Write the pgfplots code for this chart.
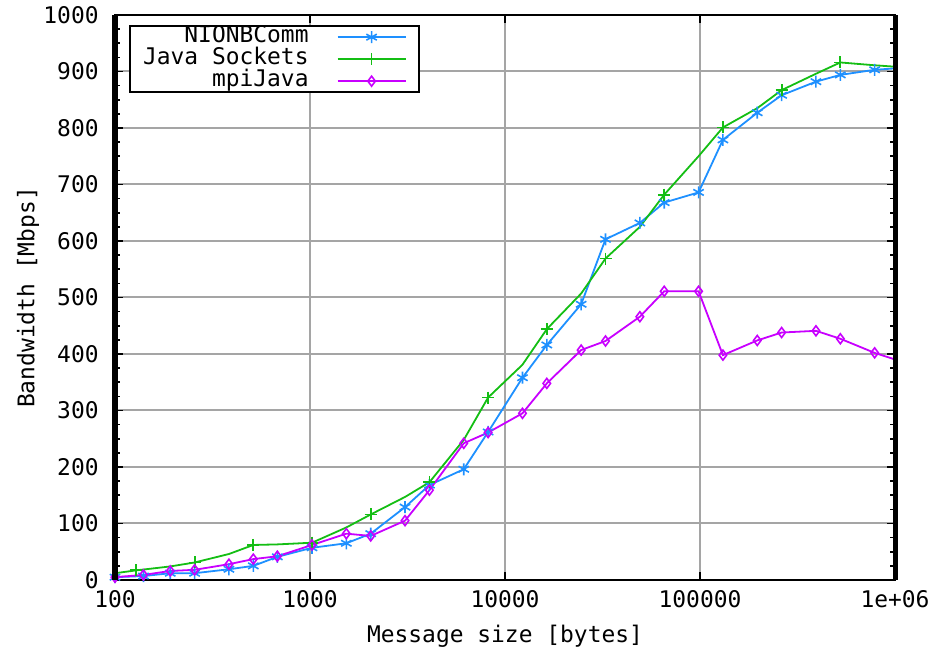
\documentclass[border=0pt]{standalone}
\usepackage{pgfplots}
\pgfplotsset{compat=1.18}
\usepackage{fontspec}
\setmainfont{DejaVu Sans Mono}
\setmonofont{DejaVu Sans Mono}
\definecolor{cblue}{RGB}{30,144,255}
\definecolor{cgreen}{RGB}{20,190,20}
\definecolor{cmag}{RGB}{200,0,255}
\definecolor{cgrid}{RGB}{165,165,165}
\begin{document}
\fontsize{11.5}{13}\selectfont
\begin{tikzpicture}
\begin{axis}[
  name=ax,
  scale only axis, width=390bp, height=282.5bp,
  xmode=log, log basis x=10,
  xmin=100, xmax=1000000, ymin=0, ymax=1000,
  xtick={100,1000,10000,100000,1000000},
  xticklabels={100,1000,10000,100000,1e+06},
  ytick={0,100,...,1000},
  minor y tick num=3,
  grid=major,
  major grid style={cgrid, line width=1bp},
  tick align=inside,
  major tick length=4bp, minor tick length=2.5bp,
  every tick/.style={black, line width=0.8bp},
  axis line style={black, line width=1bp},
  /pgf/number format/assume math mode=true,
  /pgf/number format/1000 sep={},
  every tick label/.append style={font=\fontsize{11.5}{13}\selectfont},
  xticklabel style={anchor=center, inner sep=0pt, yshift=-9.5bp},
  yticklabel style={anchor=east, inner sep=0pt, xshift=-8bp},
  xlabel={Message size [bytes]}, ylabel={Bandwidth [Mbps]},
  label style={font=\fontsize{11.5}{13}\selectfont},
  xlabel style={at={(axis description cs:0.5,0)}, anchor=center, yshift=-28bp},
  ylabel style={at={(axis description cs:-0.1115,0.5)}, anchor=center},
  legend style={at={(axis description cs:0.018,0.982)}, anchor=north west,
    draw=black, line width=1bp, fill=white, inner xsep=6.5bp, inner ysep=0pt,
    font=\fontsize{11.5}{13}\selectfont,
    nodes={inner xsep=0pt, inner ysep=0pt, text height=8bp, text depth=3bp},
    row sep=0pt, column sep=0pt},
  legend cell align=right, legend plot pos=right,
  legend image code/.code={
    \path[draw=none, fill=none, mark=none] (0bp,0bp) -- (48.5bp,0bp);
    \draw[#1, mark=none] (14.5bp,0bp) -- (48.5bp,0bp);
    \draw[#1, mark repeat=1, mark phase=1] plot[only marks] coordinates {(31.5bp,0bp)};
  },
]
\addplot[color=cblue, line width=0.9bp, mark=asterisk, mark size=3bp, mark options={solid, line width=0.8bp}]
coordinates {
(100,5) (140,7) (192,12) (256,12) (384,19) (512,25) (680,41) (1024,57)
(1536,65) (2048,82) (3072,129) (4096,168) (6144,196) (8192,262)
(12288,358) (16384,416) (24576,488) (32768,603) (49152,632) (65536,668)
(98304,686) (131072,779) (196608,827) (262144,858) (393216,882)
(524288,894) (786432,903) (1048576,906)
};
\addlegendentry{NIONBComm}
\addplot[color=cgreen, line width=0.9bp, mark=+, mark size=3bp, mark repeat=2, mark phase=2, mark options={solid, line width=0.9bp}]
coordinates {
(100,12) (128,17) (192,24) (256,31) (384,46) (512,62) (680,63) (1024,66)
(1536,93) (2048,116) (3072,147) (4096,173) (6144,248) (8192,323)
(12288,381) (16384,444) (24576,507) (32768,569) (49152,625) (65536,682)
(98304,750) (131072,801) (196608,835) (262144,867) (393216,896)
(524288,916) (786432,911) (1048576,908)
};
\addlegendentry{Java Sockets}
\addplot[color=cmag, line width=0.9bp, mark=diamond, mark size=2.5bp, mark options={solid, line width=0.8bp}]
coordinates {
(100,5) (140,9) (192,16) (256,18) (384,28) (512,37) (680,42) (1024,62)
(1536,82) (2048,78) (3072,105) (4096,159) (6144,242) (8192,261)
(12288,295) (16384,348) (24576,407) (32768,423) (49152,466) (65536,511)
(98304,511) (131072,398) (196608,424) (262144,438) (393216,441)
(524288,427) (786432,402) (1048576,388)
};
\addlegendentry{mpiJava}
\end{axis}
\draw[line width=2.5bp] (ax.south west) -- (ax.north west);
\draw[line width=2.5bp] (ax.south east) -- (ax.north east);
\pgfresetboundingbox
\useasboundingbox ([xshift=-57.5bp,yshift=-34bp]ax.south west) rectangle ([xshift=408.5bp,yshift=290bp]ax.south west);
\end{tikzpicture}
\end{document}
